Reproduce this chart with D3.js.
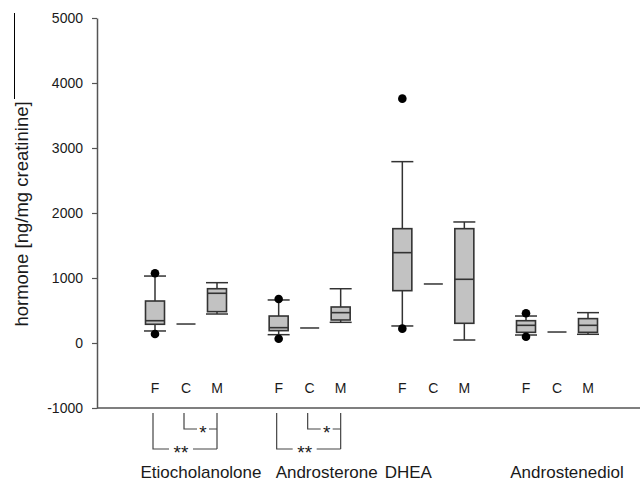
<!DOCTYPE html>
<html><head><meta charset="utf-8">
<script src="https://cdn.jsdelivr.net/npm/d3@7"></script>
<style>
html,body{margin:0;padding:0;background:#fff;}
text{font-family:"Liberation Sans",Arial,sans-serif;fill:#1a1a1a;}
</style></head>
<body>
<svg id="chart" width="640" height="483"></svg>
<script>
const hormones = ["Etiocholanolone","Androsterone","DHEA","Androstenediol"];
const groups = ["F","C","M"];
const yTicks = [-1000,0,1000,2000,3000,4000,5000];
// box statistics per hormone for groups F and M (C has a single value)
const whiskerLowF  = [185, 128, 262, 123];
const q1F          = [288, 190, 805, 164];
const medianF      = [343, 236, 1390, 272];
const q3F          = [646, 415, 1759, 343];
const whiskerHighF = [1030, 662, 2790, 415];
const outliersF    = [[1072,138],[677,66],[3759,221],[457,97]];
const controlValue = [292, 231, 908, 169];
const whiskerLowM  = [446, 318, 46, 134];
const q1M          = [482, 354, 303, 164];
const medianM      = [765, 467, 980, 272];
const q3M          = [835, 554, 1759, 375];
const whiskerHighM = [928, 835, 1862, 467];
// significance brackets [hormone, from, to, label]
const sigPairs = [
  ["Etiocholanolone","F","M","**"],["Etiocholanolone","C","M","*"],
  ["Androsterone","F","M","**"],["Androsterone","C","M","*"]
];

const svg = d3.select("#chart");
const y = d3.scaleLinear().domain([-1000,5000]).range([408,18]);
const xg = d3.scalePoint().domain(hormones).range([186,557]);
const xs = d3.scalePoint().domain(groups).range([-31,31]);
const X = (h,g) => xg(h)+xs(g);

// axes
const yAxis = d3.axisLeft(y).tickValues(yTicks).tickSize(5).tickSizeOuter(0).tickFormat(d => d<0 ? "-" + Math.abs(d) : String(d));
const ga = svg.append("g").attr("transform","translate(97,0)").call(yAxis);
ga.select(".domain").attr("stroke","#555").attr("stroke-width",1.5);
ga.selectAll(".tick line").attr("stroke","#555").attr("stroke-width",1.2);
ga.selectAll(".tick text").attr("x",-14).style("font-size","14px").style("font-family","Liberation Sans, Arial").attr("fill","#1a1a1a");
svg.append("line").attr("x1",97).attr("x2",640).attr("y1",y(-1000)).attr("y2",y(-1000)).attr("stroke","#555").attr("stroke-width",1.5);

svg.append("line").attr("x1",14.5).attr("x2",14.5).attr("y1",13).attr("y2",99).attr("stroke","#000").attr("stroke-width",1);
svg.append("text").attr("transform","translate(28,214) rotate(-90)").attr("text-anchor","middle")
  .style("font-size","18.5px").text("hormone [ng/mg creatinine]");

const boxW = 19, capW = 22;
const stroke = "#333";
const boxes = [];
hormones.forEach((h,i)=>{
  boxes.push({h, g:"F", lo:whiskerLowF[i], q1:q1F[i], med:medianF[i], q3:q3F[i], hi:whiskerHighF[i], out:outliersF[i]});
  boxes.push({h, g:"M", lo:whiskerLowM[i], q1:q1M[i], med:medianM[i], q3:q3M[i], hi:whiskerHighM[i], out:[]});
});
const gb = svg.append("g");
boxes.forEach(b=>{
  const cx = X(b.h,b.g);
  gb.append("line").attr("x1",cx).attr("x2",cx).attr("y1",y(b.hi)).attr("y2",y(b.q3)).attr("stroke",stroke).attr("stroke-width",1.5);
  gb.append("line").attr("x1",cx).attr("x2",cx).attr("y1",y(b.q1)).attr("y2",y(b.lo)).attr("stroke",stroke).attr("stroke-width",1.5);
  gb.append("line").attr("x1",cx-capW/2).attr("x2",cx+capW/2).attr("y1",y(b.hi)).attr("y2",y(b.hi)).attr("stroke",stroke).attr("stroke-width",1.5);
  gb.append("line").attr("x1",cx-capW/2).attr("x2",cx+capW/2).attr("y1",y(b.lo)).attr("y2",y(b.lo)).attr("stroke",stroke).attr("stroke-width",1.5);
  gb.append("rect").attr("x",cx-boxW/2).attr("width",boxW).attr("y",y(b.q3)).attr("height",y(b.q1)-y(b.q3))
    .attr("fill","#c2c2c2").attr("stroke",stroke).attr("stroke-width",1.6);
  gb.append("line").attr("x1",cx-boxW/2).attr("x2",cx+boxW/2).attr("y1",y(b.med)).attr("y2",y(b.med)).attr("stroke",stroke).attr("stroke-width",1.6);
  b.out.forEach(v=>{
    gb.append("circle").attr("cx",cx).attr("cy",y(v)).attr("r",4.3).attr("fill","#000");
  });
});
hormones.forEach((h,i)=>{
  const cx = X(h,"C");
  gb.append("line").attr("x1",cx-boxW/2).attr("x2",cx+boxW/2).attr("y1",y(controlValue[i])).attr("y2",y(controlValue[i])).attr("stroke",stroke).attr("stroke-width",1.5);
});

// group letters
hormones.forEach(h=>groups.forEach(g=>{
  svg.append("text").attr("x",X(h,g)).attr("y",393).attr("text-anchor","middle").style("font-size","14px").text(g);
}));

// significance brackets
const sb = svg.append("g").attr("stroke","#444").attr("stroke-width",1.2).attr("fill","none");
sigPairs.forEach(([h,a,b,lab])=>{
  const x1 = X(h,a)-2, x2 = X(h,b);
  const yb = lab==="**" ? 449 : 429;
  const top = 413;
  const mid = lab==="**" ? (x1+x2)/2 - 4 : x2 - 14;
  const half = lab==="**" ? 12 : 6;
  sb.append("path").attr("d",`M${x1},${top}V${yb}H${mid-half}M${mid+half},${yb}H${x2}`+(lab==="**"?`M${x2},${top}V${yb}`:""));
  svg.append("text").attr("x",mid).attr("y",yb+10).attr("text-anchor","middle").style("font-size","19px").text(lab);
});

// hormone labels
const labelShift = {"Etiocholanolone":15,"Androsterone":17,"DHEA":-25,"Androstenediol":10};
hormones.forEach(h=>{
  svg.append("text").attr("x",xg(h)+labelShift[h]).attr("y",478).attr("text-anchor","middle").style("font-size","17px").text(h);
});
</script>
</body></html>
